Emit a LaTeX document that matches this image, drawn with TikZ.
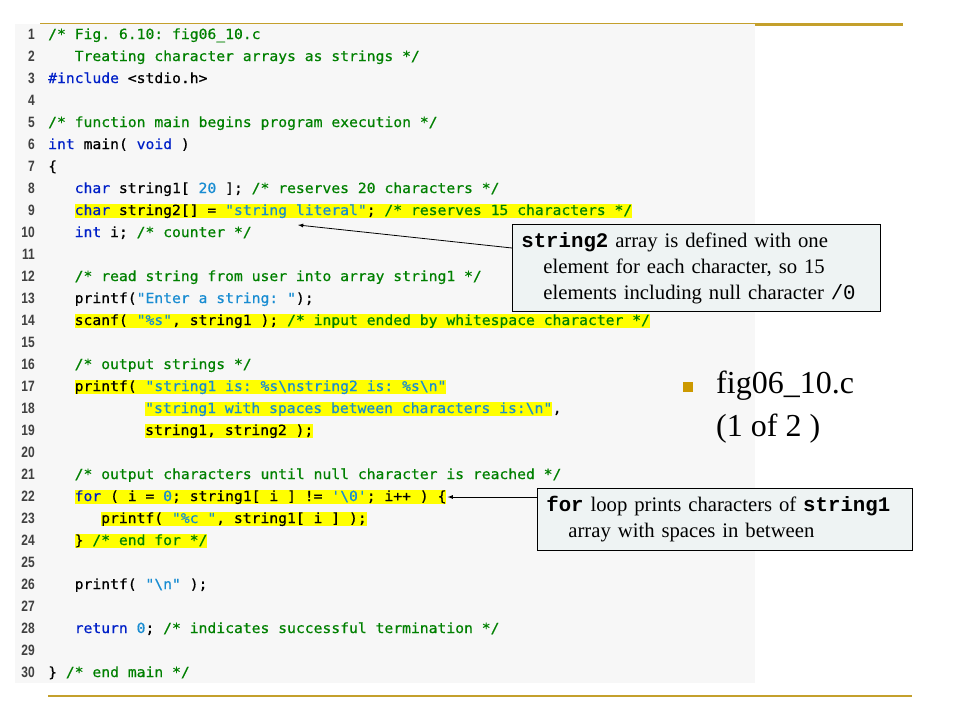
\documentclass[tikz,border=0pt]{standalone}
\usepackage{fontspec}
\setmainfont{Liberation Serif}
\setmonofont{DejaVu Sans Mono}[FakeStretch=1.05, FakeBold=0.6]
\newfontfamily\boxmono{Liberation Mono}
\newfontfamily\numfont{Liberation Sans}[FakeStretch=0.8]
\usetikzlibrary{positioning,arrows}

\definecolor{goldline}{RGB}{196,160,44}
\definecolor{bulletgold}{RGB}{204,153,0}
\definecolor{panelgray}{RGB}{247,247,247}
\definecolor{calloutfill}{RGB}{238,243,243}
\definecolor{cmtgreen}{RGB}{0,128,0}
\definecolor{kwblue}{RGB}{0,32,200}
\definecolor{litblue}{RGB}{24,140,210}
\definecolor{hlyellow}{RGB}{255,255,0}
\definecolor{lnumgray}{RGB}{64,64,64}

\newcommand{\cmt}[1]{\textcolor{cmtgreen}{#1}}
\newcommand{\kw}[1]{\textcolor{kwblue}{#1}}
\newcommand{\lit}[1]{\textcolor{litblue}{#1}}
\newcommand{\bs}{\textbackslash{}}

\begin{document}
\begin{tikzpicture}[x=1pt, y=-1pt,
    codeline/.style={anchor=base west, inner sep=0pt, font=\fontsize{14}{16}\selectfont\ttfamily, text height=11pt, text depth=3pt},
    hl/.style={codeline, fill=hlyellow},
    lnum/.style={anchor=base east, inner sep=0pt, font=\numfont\bfseries\fontsize{15}{17}\selectfont, text=lnumgray},
    callout/.style={draw=black, fill=calloutfill, line width=0.8pt, align=left, anchor=north west, inner xsep=9pt, inner ysep=4pt, font=\fontsize{20.7}{26}\selectfont},
    pointer/.style={-latex, line width=0.8pt}]
        \useasboundingbox (0,0) rectangle (960,720);

        % frame lines and code panel
        \draw[goldline, line width=3pt] (40,24) -- (903,24);
        \fill[panelgray] (15,24) rectangle (755,683);
        \draw[goldline, line width=2.5pt] (48,696) -- (912,696);

        % line numbers
        \foreach \n in {1,...,30}
            \node[lnum] (n\n) at (35, {39+22*(\n-1)}) {\n};

        % code
        \node[codeline] (l1) at (48,39) {\cmt{/* Fig. 6.10: fig06\_10.c}};
        \node[codeline] (l2) at (74.5,61) {\cmt{Treating character arrays as strings */}};
        \node[codeline] (l3) at (48,83) {\kw{\#include} <stdio.h>};
        \node[codeline] (l5) at (48,127) {\cmt{/* function main begins program execution */}};
        \node[codeline] (l6) at (48,149) {\kw{int} main( \kw{void} )};
        \node[codeline] (l7) at (48,171) {\{};
        \node[codeline] (l8) at (74.5,193) {\kw{char} string1[ \lit{20} ]; \cmt{/* reserves 20 characters */}};
        \node[hl] (l9) at (74.5,215) {\kw{char} string2[] = \lit{"string literal"}; \cmt{/* reserves 15 characters */}};
        \node[codeline] (l10) at (74.5,237) {\kw{int} i; \cmt{/* counter */}};
        \node[codeline] (l12) at (74.5,281) {\cmt{/* read string from user into array string1 */}};
        \node[codeline] (l13) at (74.5,303) {printf(\lit{"Enter a string: "});};
        \node[hl] (l14) at (74.5,325) {scanf( \lit{"\%s"}, string1 ); \cmt{/* input ended by whitespace character */}};
        \node[codeline] (l16) at (74.5,369) {\cmt{/* output strings */}};
        \node[hl] (l17) at (74.5,391) {printf( \lit{"string1 is: \%s\bs nstring2 is: \%s\bs n"}};
        \node[hl] (l18) at (145,413) {\lit{"string1 with spaces between characters is:\bs n"}};
        \node[codeline] (l18c) at (l18.base east) {,};
        \node[hl] (l19) at (145,435) {string1, string2 );};
        \node[codeline] (l21) at (74.5,479) {\cmt{/* output characters until null character is reached */}};
        \node[hl] (l22) at (74.5,501) {\kw{for} ( i = \lit{0}; string1[ i ] != \lit{'\bs 0'}; i++ ) \{};
        \node[hl] (l23) at (101,523) {printf( \lit{"\%c "}, string1[ i ] );};
        \node[hl] (l24) at (74.5,545) {\} \cmt{/* end for */}};
        \node[codeline] (l26) at (74.5,589) {printf( \lit{"\bs n"} );};
        \node[codeline] (l28) at (74.5,633) {\kw{return} \lit{0}; \cmt{/* indicates successful termination */}};
        \node[codeline] (l30) at (48,677) {\} \cmt{/* end main */}};

        % title
        \node[fill=bulletgold, minimum size=10pt, inner sep=0pt] (bullet) at (688,387) {};
        \node[anchor=west, inner sep=0pt, align=left, font=\fontsize{32}{43}\selectfont] (title) at (716,407) {fig06\_10.c\\(1 of 2 )};

        % callouts
        \node[callout, text width=350pt, minimum height=87pt] (strnote) at (512,224) {{\boxmono\bfseries string2} array is defined with one\\\hspace*{22pt}element for each character, so 15\\\hspace*{22pt}elements including null character {\boxmono /0}};
        \node[callout, text width=357pt, minimum height=62pt] (fornote) at (537,488) {{\boxmono\bfseries for} loop prints characters of {\boxmono\bfseries string1}\\\hspace*{22pt}array with spaces in between};

        \coordinate (strtip) at (298,225);
        \draw[pointer] ([yshift=-24pt]strnote.north west) -- (strtip);
        \draw[pointer] (fornote.west |- l22.east) -- ([xshift=1pt]l22.east);
\end{tikzpicture}
\end{document}
